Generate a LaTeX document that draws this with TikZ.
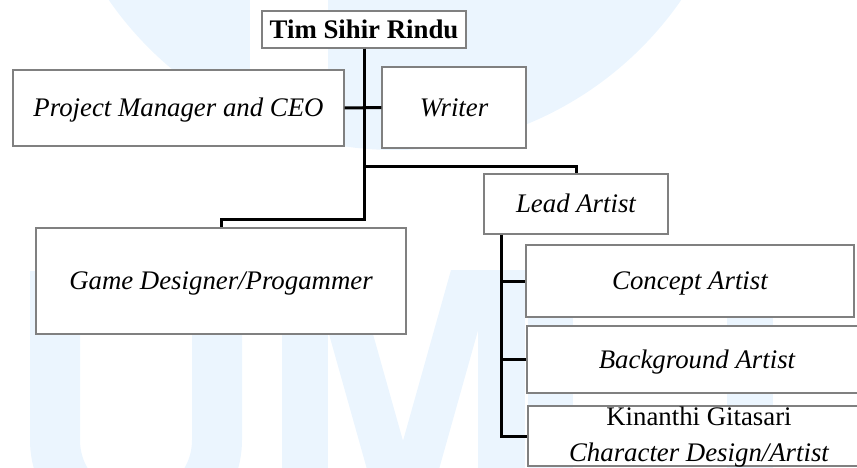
\documentclass[tikz,border=0pt]{standalone}
\usepackage{fontspec}
\setmainfont{Liberation Serif}
\usetikzlibrary{positioning,calc}
\definecolor{wmark}{HTML}{EBF5FE}
\definecolor{boxline}{HTML}{808080}
\newcommand{\rolefont}{\fontsize{26.8}{36}\selectfont}
\tikzset{
  rolebox/.style={draw=boxline, line width=1.3pt, fill=white, inner sep=0pt,
    align=center, text height=17.7pt, text depth=0pt, font=\rolefont\itshape},
  headbox/.style={rolebox, font=\rolefont\bfseries},
  nameline/.style={anchor=base, inner sep=0pt, font=\rolefont},
  link/.style={line width=3pt, draw=black}
}

\begin{document}
\begin{tikzpicture}[x=1pt,y=-1pt]
    \useasboundingbox (0,0) rectangle (857,468);
    \clip (0,0) rectangle (857,468);
    % faint logo behind the chart
    \fill[wmark] (395,-198) circle[radius=348pt];
    \fill[white] (250,0) rectangle (328,150);
    \draw[wmark, line width=50pt] (55,271) -- (55,440)
      arc[start angle=180, end angle=360, radius=81pt] -- (217,271);
    \fill[wmark] (282,270) rectangle (328,480);
    \fill[wmark] (311,270) -- (355,270) -- (414,480) -- (370,480) -- cycle;
    \fill[wmark] (451,270) -- (495,270) -- (436,480) -- (392,480) -- cycle;
    \fill[wmark] (478,270) rectangle (525,480);
    \fill[wmark] (528,270) rectangle (573,480);
    \fill[wmark] (727,270) rectangle (773,480);

    \node[headbox, minimum width=204pt, minimum height=37pt] (team) at (364,29.5) {Tim Sihir Rindu};
    \node[rolebox, minimum width=331pt, minimum height=76pt] (pm) at (178.5,108) {Project Manager and CEO};
    \node[rolebox, minimum width=144pt, minimum height=81pt] (writer) at (454,107.5) {Writer};
    \node[rolebox, minimum width=370pt, minimum height=106pt] (game) at (221,281) {Game Designer/Progammer};
    \node[rolebox, minimum width=184pt, minimum height=60pt] (lead) at (576,204) {Lead Artist};
    \node[rolebox, minimum width=328pt, minimum height=72pt] (concept) at (690,281) {Concept Artist};
    \node[rolebox, minimum width=340pt, minimum height=67pt] (bgart) at (697,359.5) {Background Artist};
    \node[rolebox, minimum width=342pt, minimum height=60pt] (chart) at (699,436) {};
    \node[nameline] (chname) at (699,425) {Kinanthi Gitasari};
    \node[nameline, font=\rolefont\itshape] (chrole) at (699,461) {Character Design/Artist};

    \draw[link] (team.south) |- ([yshift=8pt]game.north) -- (game.north);
    \draw[link] (team.south) |- ([yshift=7pt]lead.north) -- (lead.north);
    \draw[link] (pm.east) -- (writer.west);
    \coordinate (spine) at ([xshift=18pt]lead.south west);
    \draw[link] (spine) |- (chart.west);
    \foreach \role in {concept,bgart}
      \draw[link] (spine |- \role.west) -- (\role.west);
\end{tikzpicture}
\end{document}
